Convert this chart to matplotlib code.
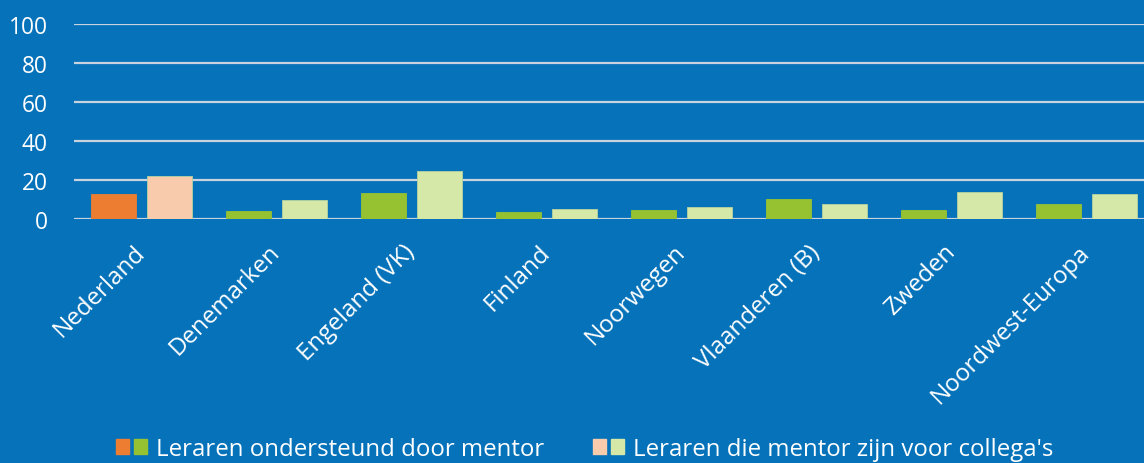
import matplotlib.pyplot as plt
import numpy as np
from matplotlib.patches import Patch
from matplotlib.legend_handler import HandlerTuple

plt.rcParams['font.family'] = ['Open Sans', 'DejaVu Sans']

# data
landen = ['Nederland', 'Denemarken', 'Engeland (VK)', 'Finland', 'Noorwegen',
          'Vlaanderen (B)', 'Zweden', 'Noordwest-Europa']
ondersteund = [13, 4.1, 13.4, 3.6, 4.5, 10.2, 4.8, 7.8]
mentor_zijn = [22.2, 9.5, 24.6, 5.0, 6.4, 7.6, 14.0, 12.9]
yticks = [0, 20, 40, 60, 80, 100]

bg = '#0572b9'
oranje, perzik = '#ed7d31', '#f8cbad'
groen, lichtgroen = '#96c231', '#d5e8a7'

fig = plt.figure(figsize=(11.44, 4.64), dpi=100)
fig.patch.set_facecolor(bg)
ax = fig.add_axes([74 / 1144, 244 / 464, 1080 / 1144, 195 / 464])
ax.set_facecolor(bg)

x = np.arange(len(landen))
w = 0.333
off = 0.207
kleur1 = [oranje] + [groen] * (len(landen) - 1)
kleur2 = [perzik] + [lichtgroen] * (len(landen) - 1)
ax.bar(x - off, ondersteund, w, color=kleur1, edgecolor=kleur1, linewidth=0.6, zorder=3)
ax.bar(x + off, mentor_zijn, w, color=kleur2, edgecolor='#b5d3a0', linewidth=0.6, zorder=3)

ax.set_xlim(-0.5, len(landen) - 0.5)
ax.set_ylim(0, 100)
ax.set_yticks(yticks)
ax.yaxis.grid(True, color='#c9d3e0', linewidth=1.6, zorder=1)
ax.set_axisbelow(True)
for s in ax.spines.values():
    s.set_visible(False)
ax.tick_params(axis='y', length=0, pad=19, labelsize=16.4, labelcolor='white')
ax.tick_params(axis='x', length=0, pad=21)
ax.set_xticks(x)
ax.set_xticklabels(landen, rotation=45, ha='right', va='center',
                   rotation_mode='anchor', fontsize=17.4, color='white')

handles = [(Patch(color=oranje), Patch(color=groen)),
           (Patch(color=perzik), Patch(color=lichtgroen))]
fig.legend(handles, ['Leraren ondersteund door mentor', "Leraren die mentor zijn voor collega's"],
           handler_map={tuple: HandlerTuple(ndivide=None, pad=0.22)},
           loc='center', bbox_to_anchor=(0.511, 0.03), ncol=2, frameon=False,
           fontsize=17.3, labelcolor='white', handlelength=1.3, handleheight=0.55,
           handletextpad=0.37, columnspacing=2.0)

fig.savefig('out.png', dpi=100, facecolor=bg)
